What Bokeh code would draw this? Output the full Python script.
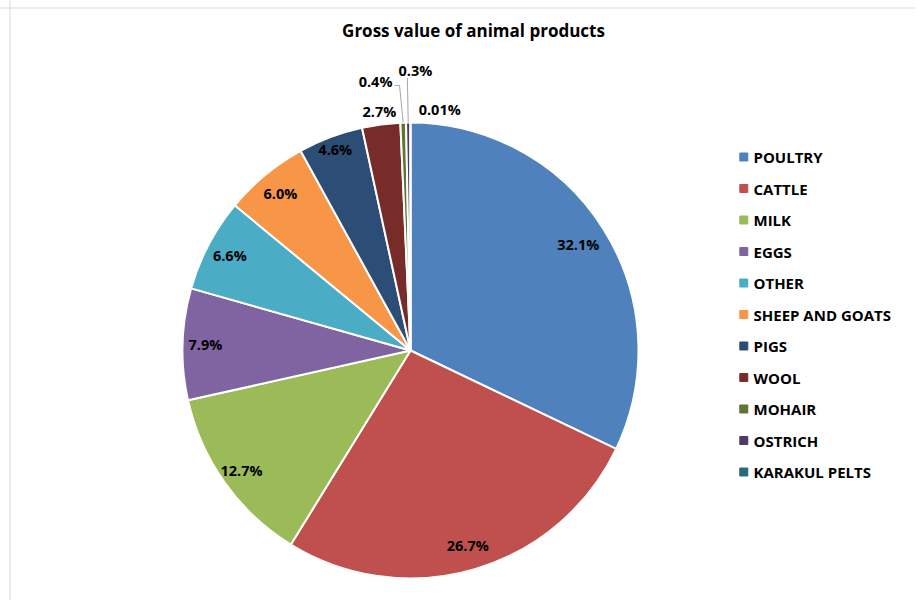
import math
from bokeh.plotting import figure
from bokeh.models import Range1d, Span, Label, ColumnDataSource
from bokeh.core.properties import value
from bokeh.embed import file_html
from bokeh.resources import INLINE

# ---------------- data ----------------
title_text = "Gross value of animal products"
categories = ["POULTRY", "CATTLE", "MILK", "EGGS", "OTHER", "SHEEP AND GOATS",
              "PIGS", "WOOL", "MOHAIR", "OSTRICH", "KARAKUL PELTS"]
shares = [32.1, 26.7, 12.7, 7.9, 6.6, 6.0, 4.6, 2.7, 0.4, 0.3, 0.01]
share_labels = ["32.1%", "26.7%", "12.7%", "7.9%", "6.6%", "6.0%",
                "4.6%", "2.7%", "0.4%", "0.3%", "0.01%"]
colors = ["#4F81BD", "#C0504D", "#9BBB59", "#8064A2", "#4BACC6", "#F79646",
          "#2C4D75", "#772C2A", "#5F7530", "#4D3B62", "#276A7C"]

# ---------------- layout ----------------
W, H = 916, 600
FONT = "Open Sans"


def px(x):  # image x -> data x
    return x


def py(y):  # image y -> data y (y up)
    return H - y


CX, CY, R = px(410), py(350), 228

total = sum(shares)
fracs = [s / total for s in shares]
cum = [0.0]
for f in fracs:
    cum.append(cum[-1] + f)

start_angles = [math.pi / 2 - 2 * math.pi * cum[i] for i in range(len(fracs))]
end_angles = [math.pi / 2 - 2 * math.pi * cum[i + 1] for i in range(len(fracs))]
mid_deg = [360 * (cum[i] + cum[i + 1]) / 2 for i in range(len(fracs))]

# label placement (radius factor, angle override in degrees clockwise from top)
label_r = [0.87, 0.89, 0.91, 0.90, 0.895, 0.895, 0.94, 1.057, 1.19, 1.23, 1.066]
label_ang = [None] * 8 + [-7.4, 1.0, 6.9]

lx, ly = [], []
for i in range(len(fracs)):
    a = math.radians(label_ang[i] if label_ang[i] is not None else mid_deg[i])
    lx.append(CX + label_r[i] * R * math.sin(a))
    ly.append(CY + label_r[i] * R * math.cos(a))

p = figure(width=W, height=H, output_backend="svg", toolbar_location=None,
           x_range=Range1d(0, W), y_range=Range1d(0, H), min_border=0)
p.axis.visible = False
p.grid.visible = False
p.outline_line_color = None
p.background_fill_color = "white"
p.border_fill_color = "white"

# chart border (only left and top visible in the window)
p.add_layout(Span(location=px(9.5), dimension="height", line_color="#d9d9d9", line_width=1))
p.add_layout(Span(location=py(7.5), dimension="width", line_color="#d9d9d9", line_width=1))

src = ColumnDataSource(dict(start=start_angles, end=end_angles, color=colors,
                            cat=categories, lab=share_labels, lx=lx, ly=ly))
p.wedge(x=CX, y=CY, radius=R, start_angle="start", end_angle="end",
        direction="clock", fill_color="color", line_color="white",
        line_width=2, source=src)


# leader lines for the tiny slices
def edge_point(i):
    a = math.radians(mid_deg[i])
    return CX + R * math.sin(a), CY + R * math.cos(a)


# MOHAIR (index 8)
ex, ey = edge_point(8)
p.line(x=[lx[8] + 19, lx[8] + 24, ex], y=[ly[8] - 4, ly[8] - 4, ey],
       line_color="#a6a6a6", line_width=1)
# OSTRICH (index 9)
ex, ey = edge_point(9)
p.line(x=[lx[9] - 8, ex], y=[ly[9] - 8, ey], line_color="#a6a6a6", line_width=1)

p.text(x="lx", y="ly", text="lab", source=src, text_align="center",
       text_baseline="middle", text_font=value(FONT), text_font_style="bold",
       text_font_size="14.5px", text_color="#000000")

# legend
leg_y = [py(156.5 + 31.5 * i) for i in range(len(categories))]
leg_src = ColumnDataSource(dict(y=leg_y, cat=categories, color=colors))
p.scatter(x=px(743.3), y="y", marker="square", size=8, fill_color="color",
          line_color="color", source=leg_src)
p.text(x=px(753), y="y", text="cat", source=leg_src, text_align="left",
       text_baseline="middle", text_font=value(FONT), text_font_style="bold",
       text_font_size="15px", text_color="#000000")

p.add_layout(Label(x=px(473), y=py(30), text=title_text, text_align="center",
                   text_baseline="middle", text_font=FONT, text_font_style="bold",
                   text_font_size="17px", text_color="#000000"))

open("out.html", "w").write(file_html(p, INLINE))
